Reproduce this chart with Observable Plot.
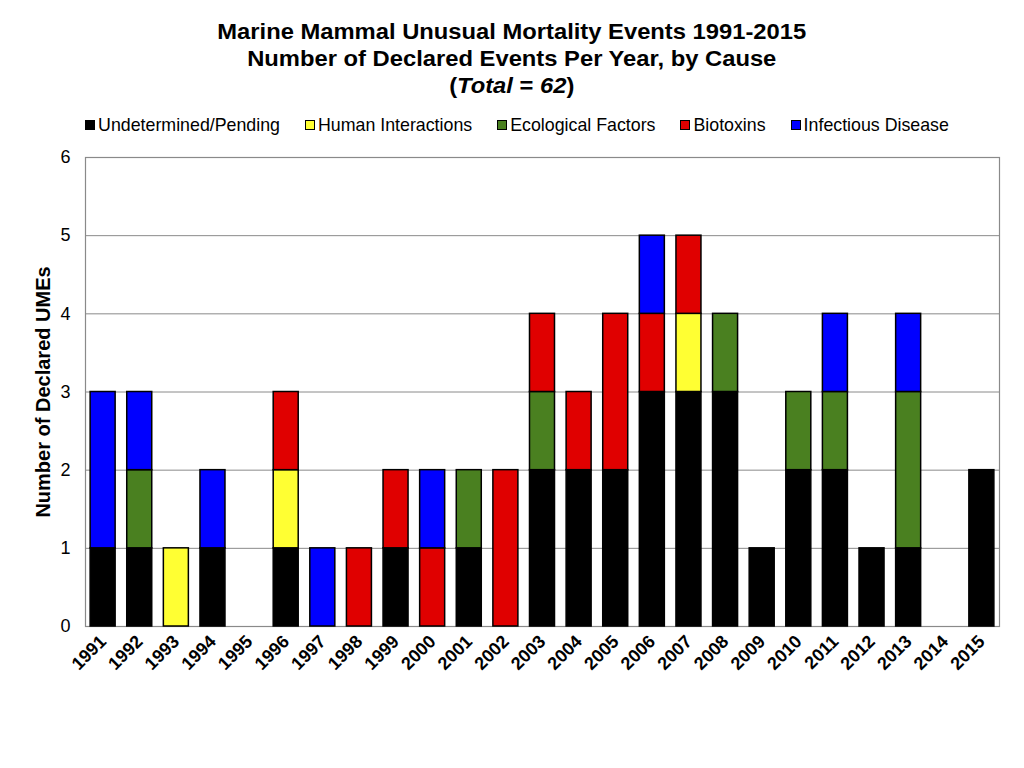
<!DOCTYPE html>
<html>
<head>
<meta charset="utf-8">
<script src="https://cdn.jsdelivr.net/npm/d3@7"></script>
<script src="https://cdn.jsdelivr.net/npm/@observablehq/plot@0.6"></script>
<style>
  body { margin: 0; background: #fff; font-family: "Liberation Sans", Arial, sans-serif; }
  #wrap { width: 1024px; height: 768px; position: relative; }
  #title { position: absolute; top: 18px; left: 0; width: 1024px; text-align: center; font-weight: bold; font-size: 22px; line-height: 27px; color: #000; transform: scaleX(1.08); transform-origin: 515px 0; }
  #legend { position: absolute; top: 115px; left: 0; width: 1024px; display: flex; justify-content: center; gap: 25px; font-size: 17.8px; line-height: 20px; color: #000; padding-left: 10px; box-sizing: border-box; }
  #legend .item { display: flex; align-items: center; gap: 3px; }
  #legend .sw { width: 8px; height: 8px; border: 1.5px solid #000; }
  #chart { position: absolute; top: 135px; left: 0; }
</style>
</head>
<body>
<div id="wrap">
  <div id="title">Marine Mammal Unusual Mortality Events 1991-2015<br>Number of Declared Events Per Year, by Cause<br>(<i>Total</i> = <i>62</i>)</div>
  <div id="legend"></div>
  <div id="chart"></div>
</div>
<script>
const years = ["1991","1992","1993","1994","1995","1996","1997","1998","1999","2000","2001","2002","2003","2004","2005","2006","2007","2008","2009","2010","2011","2012","2013","2014","2015"];
const causes = ["Undetermined/Pending","Human Interactions","Ecological Factors","Biotoxins","Infectious Disease"];
const colors = ["#000000","#ffff33","#4a8020","#e00000","#0000ff"];
const undetermined = [1,1,0,1,0,1,0,0,1,0,1,0,2,2,2,3,3,3,1,2,2,1,1,0,2];
const human        = [0,0,1,0,0,1,0,0,0,0,0,0,0,0,0,0,1,0,0,0,0,0,0,0,0];
const ecological   = [0,1,0,0,0,0,0,0,0,0,1,0,1,0,0,0,0,1,0,1,1,0,2,0,0];
const biotoxins    = [0,0,0,0,0,1,0,1,1,1,0,2,1,1,2,1,1,0,0,0,0,0,0,0,0];
const infectious   = [2,1,0,1,0,0,1,0,0,1,0,0,0,0,0,1,0,0,0,0,1,0,1,0,0];
const yTicks = [0,1,2,3,4,5,6];

const series = [undetermined, human, ecological, biotoxins, infectious];
const data = [];
series.forEach((vals, i) => {
  vals.forEach((v, j) => { if (v > 0) data.push({year: years[j], cause: causes[i], value: v}); });
});

// legend
const leg = document.getElementById("legend");
causes.forEach((c, i) => {
  const it = document.createElement("div");
  it.className = "item";
  it.innerHTML = `<span class="sw" style="background:${colors[i]}"></span><span>${c}</span>`;
  leg.appendChild(it);
});

const chart = Plot.plot({
  width: 1024,
  height: 571,
  marginLeft: 85,
  marginRight: 25,
  marginTop: 22,
  marginBottom: 80,
  style: {fontFamily: "'Liberation Sans', Arial, sans-serif", color: "#000", background: "#fff"},
  x: {type: "band", domain: years, paddingInner: 0.317, paddingOuter: 0.14, round: false},
  y: {domain: [0, 6]},
  color: {domain: causes, range: colors},
  marks: [
    Plot.gridY(yTicks, {stroke: "#8a8a8a", strokeOpacity: 1, strokeWidth: 1}),
    Plot.frame({stroke: "#8a8a8a", strokeWidth: 1.2}),
    Plot.barY(data, {x: "year", y: "value", fill: "cause", stroke: "#000", strokeWidth: 1.5}),
    Plot.axisY(yTicks, {tickSize: 0, tickPadding: 15, fontSize: 18, tickFormat: d => String(d), label: "Number of Declared UMEs", labelAnchor: "center", labelOffset: 50, labelArrow: "none"}),
    Plot.axisX({tickSize: 0, tickPadding: 12, tickRotate: -45, fontSize: 18, fontWeight: "bold", label: null})
  ]
});
chart.querySelectorAll("g[aria-label='y-axis label'] text, g[aria-label='y-axis label']").forEach(e => { e.setAttribute("font-weight", "bold"); e.setAttribute("font-size", "20"); });
document.getElementById("chart").appendChild(chart);
</script>
</body>
</html>
